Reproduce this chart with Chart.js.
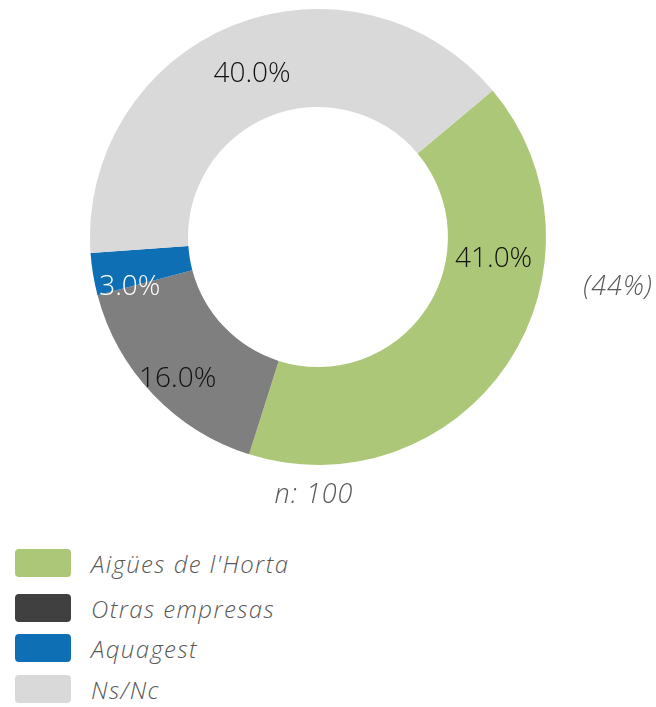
<!DOCTYPE html>
<html lang="es">
<head>
<meta charset="UTF-8">
<title>Empresa suministradora</title>
<script src="https://cdn.jsdelivr.net/npm/chart.js@4"></script>
<style>
    body {
        margin: 0;
        background: #fff;
        font-family: "Open Sans", Lato, sans-serif;
    }
    .wrap {
        position: relative;
        width: 656px;
        height: 707px;
    }
    #chartBox {
        position: absolute;
        left: 0;
        top: 0;
        width: 656px;
        height: 510px;
    }
    .legend {
        position: absolute;
        left: 15px;
        top: 549px;
    }
    .legend-item {
        position: absolute;
        left: 0;
        white-space: nowrap;
    }
    .legend-item .box {
        position: absolute;
        left: 0;
        top: 0;
        width: 56px;
        height: 28px;
        border-radius: 4px;
    }
    .legend-item span {
        position: absolute;
        left: 76px;
        top: 1px;
        line-height: 28px;
        font-size: 24px;
        letter-spacing: 1.4px;
        font-style: italic;
        font-weight: 300;
        color: #595959;
    }
</style>
</head>
<body>
<div class="wrap">
    <div id="chartBox"><canvas id="pie"></canvas></div>
    <div class="legend" id="legend"></div>
</div>

<script>
// data
const categories = ["Aigües de l'Horta", "Otras empresas", "Aquagest", "Ns/Nc"];
const shares = [41.0, 16.0, 3.0, 40.0];
const sampleNote = "n: 100";
const sideNote = "(44%)";

// look
const sliceColors = ['#adc778', '#7f7f7f', '#0f6fb4', '#d9d9d9'];
const legendColors = ['#adc778', '#404040', '#0f6fb4', '#d9d9d9'];
const labelColors = ['#111', '#111', '#fff', '#111'];
// where on each slice the label sits (fraction along arc, fraction across ring)
const labelAlong = [0.32, 0.47, 0.0, 0.5];
const labelAcross = [0.48, 0.71, 0.66, 0.47];
const legendTops = [0, 45, 85, 126];

// draw the percent labels + notes
const notesPlugin = {
    id: 'notes',
    afterDatasetsDraw(chart) {
        const ctx = chart.ctx;
        const arcs = chart.getDatasetMeta(0).data;
        ctx.save();
        ctx.textAlign = 'center';
        ctx.textBaseline = 'middle';
        ctx.font = '300 28px "Open Sans"';
        arcs.forEach((arc, i) => {
            const a = arc.startAngle + (arc.endAngle - arc.startAngle) * labelAlong[i];
            const r = arc.innerRadius + (arc.outerRadius - arc.innerRadius) * labelAcross[i];
            ctx.fillStyle = labelColors[i];
            ctx.fillText(shares[i].toFixed(1) + '%', arc.x + r * Math.cos(a), arc.y + r * Math.sin(a));
        });
        const first = arcs[0];
        ctx.fillStyle = '#595959';
        ctx.font = 'italic 300 27px "Open Sans"';
        ctx.letterSpacing = '1px';
        ctx.fillText(sampleNote, first.x - 4, first.y + first.outerRadius + 30);
        ctx.fillText(sideNote, first.x + first.outerRadius + 72, first.y + 50);
        ctx.restore();
    }
};

new Chart(document.getElementById('pie'), {
    type: 'doughnut',
    data: {
        labels: categories,
        datasets: [{
            data: shares,
            backgroundColor: sliceColors,
            borderWidth: 0
        }]
    },
    options: {
        responsive: true,
        maintainAspectRatio: false,
        animation: false,
        rotation: 50,
        cutout: '57%',
        layout: { padding: { left: 90, right: 110, top: 9, bottom: 45 } },
        plugins: {
            legend: { display: false },
            tooltip: { enabled: false }
        }
    },
    plugins: [notesPlugin]
});

// legend
const legend = document.getElementById('legend');
categories.forEach((name, i) => {
    const item = document.createElement('div');
    item.className = 'legend-item';
    item.style.top = legendTops[i] + 'px';
    item.innerHTML = `<div class="box" style="background:${legendColors[i]}"></div><span>${name}</span>`;
    legend.appendChild(item);
});
</script>
</body>
</html>
